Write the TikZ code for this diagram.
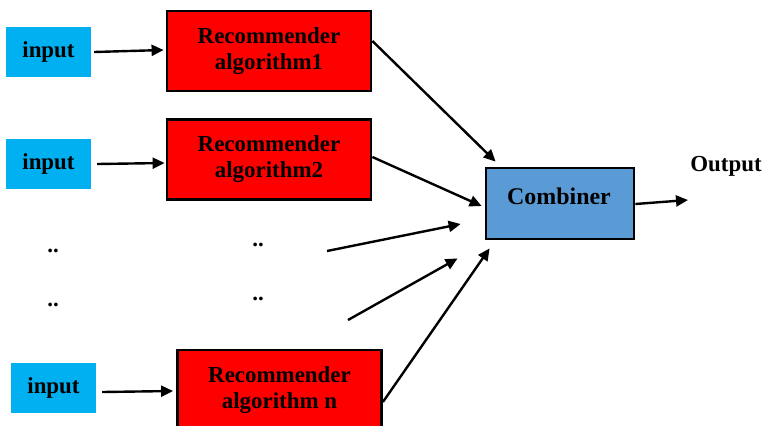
\documentclass[tikz,border=0pt]{standalone}
\usepackage{fontspec}
\setmainfont{Liberation Serif}
\usetikzlibrary{arrows.meta,calc}
\definecolor{inblue}{RGB}{0,176,240}
\definecolor{algred}{RGB}{255,0,0}
\definecolor{combblue}{RGB}{91,155,213}
\begin{document}
\begin{tikzpicture}[x=1bp,y=-1bp,
  lbl/.style={font=\fontsize{23}{26}\selectfont\bfseries, inner sep=0pt},
  inbox/.style={lbl, fill=inblue, minimum width=85bp, minimum height=50bp},
  algbox/.style={lbl, draw=black, line width=2.8bp, fill=algred, align=center,
    minimum width=204bp, minimum height=80bp},
  combbox/.style={draw=black, line width=2.8bp, fill=combblue,
    minimum width=148bp, minimum height=71bp, inner sep=0pt},
  arr/.style={line width=2.4bp, -{Triangle[length=12bp,width=11bp]}}]
  \useasboundingbox (0,0) rectangle (764,425);

  % inputs
  \node[inbox] (in1) at (48.5,52) {input};
  \node[inbox] (in2) at (48.5,164) {input};
  \node[inbox] (in3) at (53.5,388) {input};

  % recommender algorithms
  \node[algbox] (alg1) at (269,51) {Recommender\\algorithm1};
  \node[algbox] (alg2) at (269,159.5) {Recommender\\algorithm2};
  \node[algbox] (alg3) at (279.5,390) {Recommender\\algorithm n};

  % elided rows
  \node[lbl, anchor=base] (dA) at (53,252) {..};
  \node[lbl, anchor=base] (dB) at (53,306) {..};
  \node[lbl, anchor=base] (dC) at (258,246) {..};
  \node[lbl, anchor=base] (dD) at (258,300) {..};

  % combiner and output
  \node[combbox] (comb) at (560,203.5) {};
  \node[font=\fontsize{24}{26}\selectfont\bfseries, inner sep=0pt, anchor=base] (combtext) at (559,204) {Combiner};
  \node[lbl, anchor=base] (out) at (726,171) {Output};

  % free line ends
  \coordinate (s1) at (327,251);
  \coordinate (s2) at (348,320);
  \coordinate (outtip) at (688,200);

  % inputs to algorithms
  \draw[arr] ($(in1.east)+(3,0)$) -- ($(alg1.west)+(-2,-1)$);
  \draw[arr] ($(in2.east)+(6,0)$) -- ($(alg2.west)+(-1,3.5)$);
  \draw[arr] ($(in3.east)+(6,4)$) -- ($(alg3.west)+(-3,1)$);

  % algorithms to combiner
  \draw[arr] ($(alg1.east)+(0,-10)$) -- ($(comb.north west)+(11,-5)$);
  \draw[arr] ($(alg2.east)+(0,-2.5)$) -- ($(comb.west)+(-3,2.5)$);
  \draw[arr] (s1) -- ($(comb.west)+(-24,20.5)$);
  \draw[arr] (s2) -- ($(comb.south west)+(-27,18)$);
  \draw[arr] ($(alg3.east)+(0,12)$) -- ($(comb.south west)+(5,8)$);

  % combiner to output
  \draw[arr] ($(comb.east)+(0,0.5)$) -- (outtip);
\end{tikzpicture}
\end{document}
